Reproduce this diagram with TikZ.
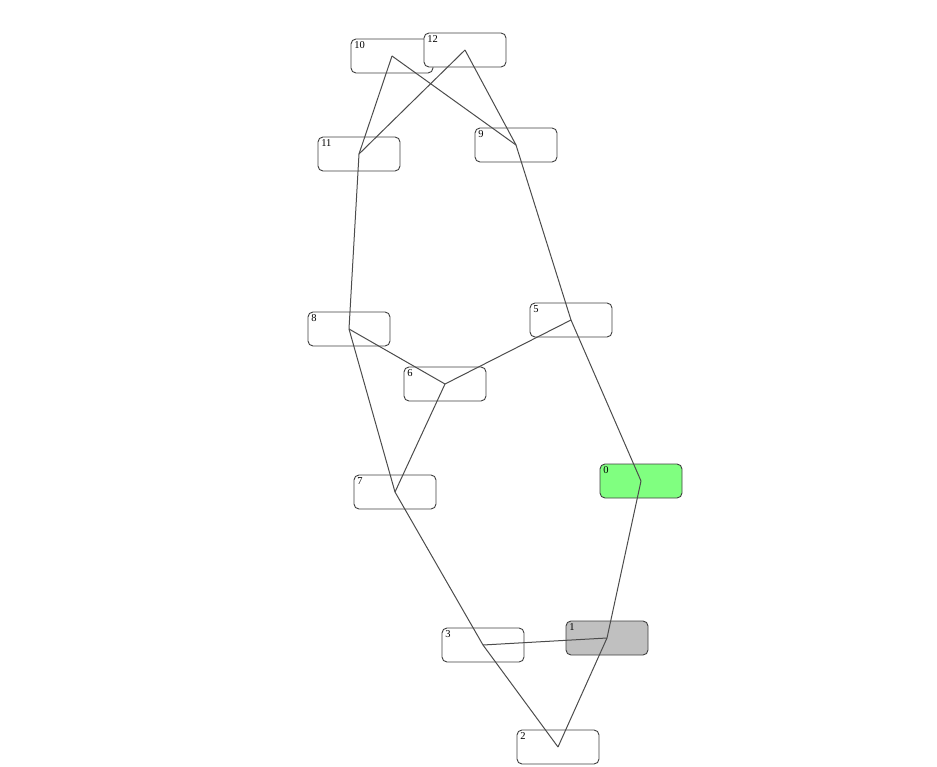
\documentclass[tikz,border=0pt]{standalone}
\usepackage{fontspec}
\setmainfont{Liberation Serif}
\begin{document}
\begin{tikzpicture}[x=1pt,y=-1pt,
  box/.style={draw=black!75, line width=0.9pt, rounded corners=5pt, minimum width=82pt, minimum height=34pt, inner sep=0pt, fill=white},
  lbl/.style={anchor=north west, inner sep=0pt, font=\fontsize{10.5}{10.5}\selectfont, xshift=3.5pt, yshift=-3pt},
  edge/.style={draw=black!70, line width=1pt}]
\useasboundingbox (0,0) rectangle (937,767);
\node[box] (n10) at (392,56) [label={[lbl]north west:10}] {};
\node[box] (n12) at (465,50) [label={[lbl]north west:12}] {};
\node[box] (n11) at (359,154) [label={[lbl]north west:11}] {};
\node[box] (n9) at (516,145) [label={[lbl]north west:9}] {};
\node[box] (n8) at (349,329) [label={[lbl]north west:8}] {};
\node[box] (n5) at (571,320) [label={[lbl]north west:5}] {};
\node[box] (n6) at (445,384) [label={[lbl]north west:6}] {};
\node[box] (n7) at (395,492) [label={[lbl]north west:7}] {};
\node[box, fill={rgb,255:red,128;green,255;blue,128}] (n0) at (641,481) [label={[lbl]north west:0}] {};
\node[box] (n3) at (483,645) [label={[lbl]north west:3}] {};
\node[box, fill={rgb,255:red,192;green,192;blue,192}] (n1) at (607,638) [label={[lbl]north west:1}] {};
\node[box] (n2) at (558,747) [label={[lbl]north west:2}] {};
\draw[edge] (n10.center) -- (n9.center);
\draw[edge] (n10.center) -- (n11.center);
\draw[edge] (n12.center) -- (n11.center);
\draw[edge] (n12.center) -- (n9.center);
\draw[edge] (n11.center) -- (n8.center);
\draw[edge] (n9.center) -- (n5.center);
\draw[edge] (n5.center) -- (n0.center);
\draw[edge] (n8.center) -- (n6.center);
\draw[edge] (n5.center) -- (n6.center);
\draw[edge] (n8.center) -- (n7.center);
\draw[edge] (n6.center) -- (n7.center);
\draw[edge] (n7.center) -- (n3.center);
\draw[edge] (n3.center) -- (n1.center);
\draw[edge] (n3.center) -- (n2.center);
\draw[edge] (n2.center) -- (n1.center);
\draw[edge] (n1.center) -- (n0.center);
\end{tikzpicture}
\end{document}
